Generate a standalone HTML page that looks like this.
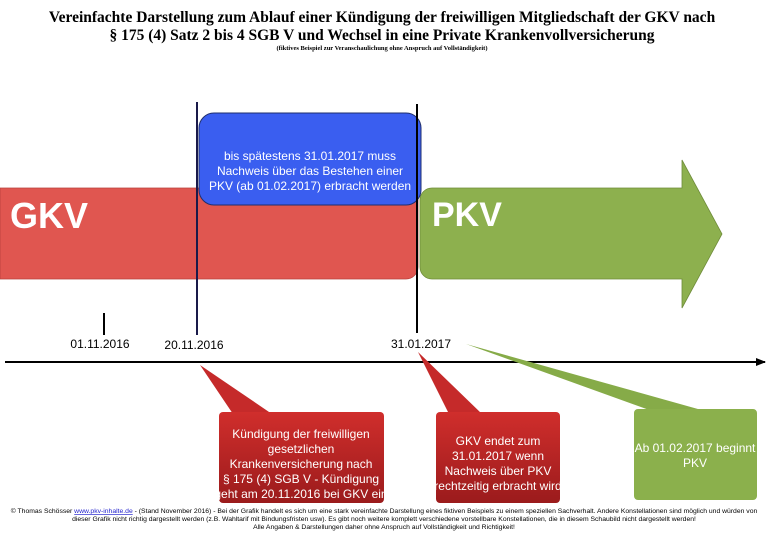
<!DOCTYPE html>
<html><head><meta charset="utf-8"><style>
html,body{margin:0;padding:0;background:#fff;}
svg{display:block;font-family:"Liberation Sans",Arial,sans-serif;}
</style></head><body>
<svg width="768" height="543" viewBox="0 0 768 543" xmlns="http://www.w3.org/2000/svg">
<defs>
<linearGradient id="rg" x1="0" y1="0" x2="0" y2="1"><stop offset="0" stop-color="#d02e2c"/><stop offset="1" stop-color="#9b1b1c"/></linearGradient>
<marker id="ah" markerWidth="10" markerHeight="8" refX="9" refY="4" orient="auto" markerUnits="userSpaceOnUse"><path d="M0,0 L10,4 L0,8 Z" fill="#000"/></marker>
</defs>
<g font-family="Liberation Serif,serif" font-weight="bold" text-anchor="middle" fill="#000">
<text x="382" y="22" font-size="15.5">Vereinfachte Darstellung zum Ablauf einer Kündigung der freiwilligen Mitgliedschaft der GKV nach</text>
<text x="382" y="40" font-size="15.5">§ 175 (4) Satz 2 bis 4 SGB V und Wechsel in eine Private Krankenvollversicherung</text>
<text x="382" y="50" font-size="6.5">(fiktives Beispiel zur Veranschaulichung ohne Anspruch auf Vollständigkeit)</text>
</g>
<path d="M0,188 H406 a12,12 0 0 1 12,12 V267 a12,12 0 0 1 -12,12 H0 Z" fill="#e05650" stroke="#b8403b" stroke-width="0.8"/>
<text x="10" y="228" font-size="36" font-weight="bold" fill="#fff">GKV</text>
<path d="M432,188 H682 V160 L722,234 L682,308 V279 H432 a12,12 0 0 1 -12,-12 V200 a12,12 0 0 1 12,-12 Z" fill="#8db04e" stroke="#6f8c3a" stroke-width="0.8"/>
<text x="432" y="226" font-size="34" font-weight="bold" fill="#fff">PKV</text>
<rect x="199" y="113" width="222" height="92" rx="15" fill="#3a5ef0" stroke="#1f2f6e" stroke-width="1"/>
<g font-size="12" fill="#fff" text-anchor="middle">
<text x="310" y="160">bis spätestens 31.01.2017 muss</text>
<text x="310" y="175">Nachweis über das Bestehen einer</text>
<text x="310" y="190">PKV (ab 01.02.2017) erbracht werden</text>
</g>
<line x1="197" y1="102" x2="197" y2="335" stroke="#1a1a4a" stroke-width="2"/>
<line x1="417" y1="104" x2="417" y2="333" stroke="#000" stroke-width="2"/>
<line x1="104" y1="313" x2="104" y2="335" stroke="#000" stroke-width="2"/>
<g font-size="12" fill="#000" text-anchor="middle">
<text x="100" y="348">01.11.2016</text>
<text x="194" y="349">20.11.2016</text>
<text x="421" y="348">31.01.2017</text>
</g>
<line x1="5" y1="362" x2="765" y2="362" stroke="#000" stroke-width="2" marker-end="url(#ah)"/>
<g>
<path d="M200,365 L233,414 L272,414 Z" fill="#c52a2a"/>
<rect x="219" y="412" width="165" height="91" rx="4" fill="url(#rg)"/>
<g font-size="12" fill="#fff" text-anchor="middle">
<text x="301" y="438">Kündigung der freiwilligen</text>
<text x="301" y="453">gesetzlichen</text>
<text x="301" y="468">Krankenversicherung nach</text>
<text x="301" y="483">§ 175 (4) SGB V - Kündigung</text>
<text x="301" y="498">geht am 20.11.2016 bei GKV ein</text>
</g></g>
<g>
<path d="M418,352 L449,414 L482,414 Z" fill="#c52a2a"/>
<rect x="436" y="412" width="124" height="91" rx="4" fill="url(#rg)"/>
<g font-size="12" fill="#fff" text-anchor="middle">
<text x="498" y="445">GKV endet zum</text>
<text x="498" y="460">31.01.2017 wenn</text>
<text x="498" y="475">Nachweis über PKV</text>
<text x="498" y="490">rechtzeitig erbracht wird</text>
</g></g>
<g>
<path d="M466,344 L652,411 L705,411 Z" fill="#86ab48"/>
<rect x="634" y="409" width="123" height="91" rx="4" fill="#8bb04c"/>
<g font-size="12" fill="#fff" text-anchor="middle">
<text x="695" y="452">Ab 01.02.2017 beginnt</text>
<text x="695" y="467">PKV</text>
</g></g>
<g font-size="6.8" fill="#000" text-anchor="middle">
<text x="384" y="513">© Thomas Schösser <tspan fill="#2222cc" text-decoration="underline">www.pkv-inhalte.de</tspan> - (Stand November 2016) - Bei der Grafik handelt es sich um eine stark vereinfachte Darstellung eines fiktiven Beispiels zu einem speziellen Sachverhalt. Andere Konstellationen sind möglich und würden von</text>
<text x="384" y="521">dieser Grafik nicht richtig dargestellt werden (z.B. Wahltarif mit Bindungsfristen usw). Es gibt noch weitere komplett verschiedene vorstellbare Konstellationen, die in diesem Schaubild nicht dargestellt werden!</text>
<text x="384" y="529">Alle Angaben &amp; Darstellungen daher ohne Anspruch auf Vollständigkeit und Richtigkeit!</text>
</g>
</svg>
</body></html>
